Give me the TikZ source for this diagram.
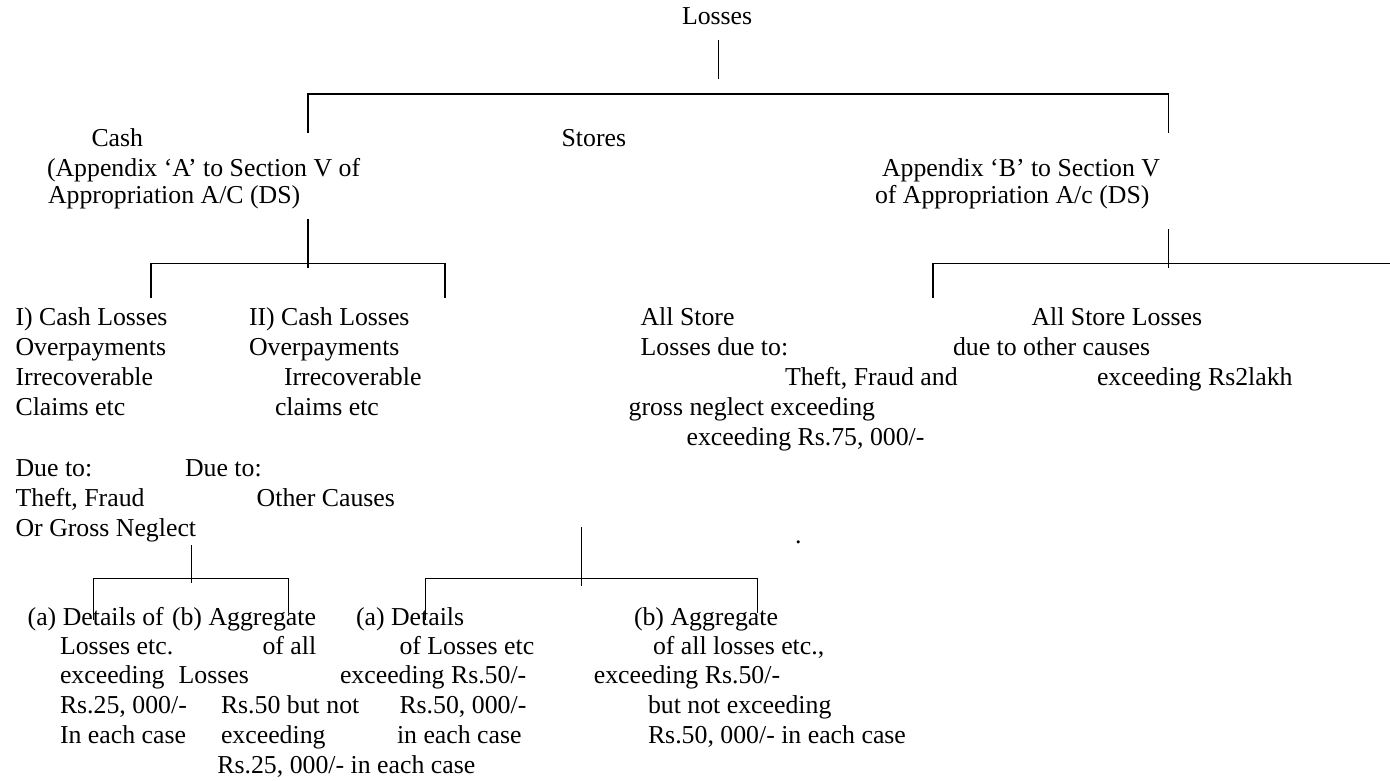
\documentclass[tikz,border=0pt]{standalone}
\usepackage{fontspec}
\setmainfont{Liberation Serif}
\frenchspacing
\begin{document}
\begin{tikzpicture}[x=1pt,y=-1pt,
  lbl/.style={anchor=base west,inner sep=0pt,outer sep=0pt,
    font=\fontsize{25.8}{29.7}\selectfont},
  link/.style={draw=black,line width=1.3pt},
  thinlink/.style={draw=black,line width=1pt}]
\useasboundingbox (0,0) rectangle (1390,781);

% ---------- level 0 ----------
\node[lbl] (losses) at (682,25) {Losses};

% ---------- level 1 ----------
\node[lbl] (cash1) at (91.5,147) {Cash};
\node[lbl] (cash2) at (47,176) {(Appendix ‘A’ to Section V of};
\node[lbl] (cash3) at (48,204) {Appropriation A/C (DS)};
\node[lbl] (stores) at (561.6,147) {Stores};
\node[lbl] (appb1) at (882,176) {Appendix ‘B’ to Section V};
\node[lbl] (appb2) at (875,204) {of Appropriation A/c (DS)};

% ---------- level 2: cash ----------
\node[lbl] (ca1) at (15.6,325) {I) Cash Losses};
\node[lbl] (ca2) at (15.6,355) {Overpayments};
\node[lbl] (ca3) at (15.6,385) {Irrecoverable};
\node[lbl] (ca4) at (15.6,415) {Claims etc};
\node[lbl] (cb1) at (249,325) {II) Cash Losses};
\node[lbl] (cb2) at (249,355) {Overpayments};
\node[lbl] (cb3) at (284,385) {Irrecoverable};
\node[lbl] (cb4) at (275,415) {claims etc};

% ---------- level 2: stores ----------
\node[lbl] (sa1) at (640.6,325) {All Store};
\node[lbl] (sa2) at (640.6,355) {Losses due to:};
\node[lbl] (sa3) at (785,385) {Theft, Fraud and};
\node[lbl] (sa4) at (628.6,415) {gross neglect exceeding};
\node[lbl] (sa5) at (686.6,445) {exceeding Rs.75, 000/-};
\node[lbl] (sb1) at (1031.5,325) {All Store Losses};
\node[lbl] (sb2) at (953,355) {due to other causes};
\node[lbl] (sb3) at (1097,385) {exceeding Rs2lakh};
\node[lbl] (dot) at (795,543) {.};

% ---------- level 3 ----------
\node[lbl] (da1) at (15.6,476) {Due to:};
\node[lbl] (db1) at (185,476) {Due to:};
\node[lbl] (da2) at (15.6,506) {Theft, Fraud};
\node[lbl] (db2) at (256.7,506) {Other Causes};
\node[lbl] (da3) at (15.6,536) {Or Gross Neglect};

% ---------- level 4 ----------
\node[lbl] (pa1) at (27.7,625) {(a) Details of};
\node[lbl] (pa2) at (60,654) {Losses etc.};
\node[lbl] (pa3) at (60,683) {exceeding};
\node[lbl] (pa4) at (60,713) {Rs.25, 000/-};
\node[lbl] (pa5) at (60,743) {In each case};
\node[lbl] (pb1) at (172,625) {(b) Aggregate};
\node[lbl] (pb2) at (262.5,654) {of all};
\node[lbl] (pb3) at (178.6,683) {Losses};
\node[lbl] (pb4) at (221,713) {Rs.50 but not};
\node[lbl] (pb5) at (221,743) {exceeding};
\node[lbl] (pb6) at (217.4,773) {Rs.25, 000/- in each case};

\node[lbl] (qa1) at (356,625) {(a) Details};
\node[lbl] (qa2) at (399.5,654) {of Losses etc};
\node[lbl] (qa3) at (340,683) {exceeding Rs.50/-};
\node[lbl] (qa4) at (399.5,713) {Rs.50, 000/-};
\node[lbl] (qa5) at (397,743) {in each case};
\node[lbl] (qb1) at (634,625) {(b) Aggregate};
\node[lbl] (qb2) at (653,654) {of all losses etc.,};
\node[lbl] (qb3) at (593.8,683) {exceeding Rs.50/-};
\node[lbl] (qb4) at (648,713) {but not exceeding};
\node[lbl] (qb5) at (648,743) {Rs.50, 000/- in each case};

% ---------- connector points ----------
\coordinate (rootT) at (718.6,40);
\coordinate (rootB) at (718.6,79);
\coordinate (barL) at (308,94);
\coordinate (barR) at (1168.6,94);
\coordinate (barLd) at (308,133);
\coordinate (barRd) at (1168.6,133);

\coordinate (cashT) at (308,219);
\coordinate (cashB) at (308,268);
\coordinate (cbL) at (151,263.3);
\coordinate (cbR) at (445,263.3);
\coordinate (cbLd) at (151,298);
\coordinate (cbRd) at (445,298);

\coordinate (appT) at (1168.6,229);
\coordinate (appB) at (1168.6,268);
\coordinate (abL) at (933,263.3);
\coordinate (abR) at (1390,263.3);
\coordinate (abLd) at (933,298);

\coordinate (dueT) at (191,545);
\coordinate (dueB) at (191,583);
\coordinate (dbL) at (93,578);
\coordinate (dbR) at (288,578);
\coordinate (dbLd) at (93,620);
\coordinate (dbRd) at (288,613);

\coordinate (stT) at (581,527);
\coordinate (stB) at (581,586);
\coordinate (sbL) at (425,578.3);
\coordinate (sbR) at (757.7,578.3);
\coordinate (sbLd) at (425,620);
\coordinate (sbRd) at (757.7,613);

% ---------- connectors ----------
\draw[link] (rootT) -- (rootB);
\draw[link] (barLd) -- (barL) -- (barR) -- (barRd);

\draw[link] (cashT) -- (cashB);
\draw[link] (cbLd) -- (cbL) -- (cbR) -- (cbRd);

\draw[link] (appT) -- (appB);
\draw[link] (abLd) -- (abL) -- (abR);

\draw[thinlink] (dueT) -- (dueB);
\draw[thinlink] (dbLd) -- (dbL) -- (dbR) -- (dbRd);

\draw[thinlink] (stT) -- (stB);
\draw[thinlink] (sbLd) -- (sbL) -- (sbR) -- (sbRd);
\end{tikzpicture}
\end{document}
